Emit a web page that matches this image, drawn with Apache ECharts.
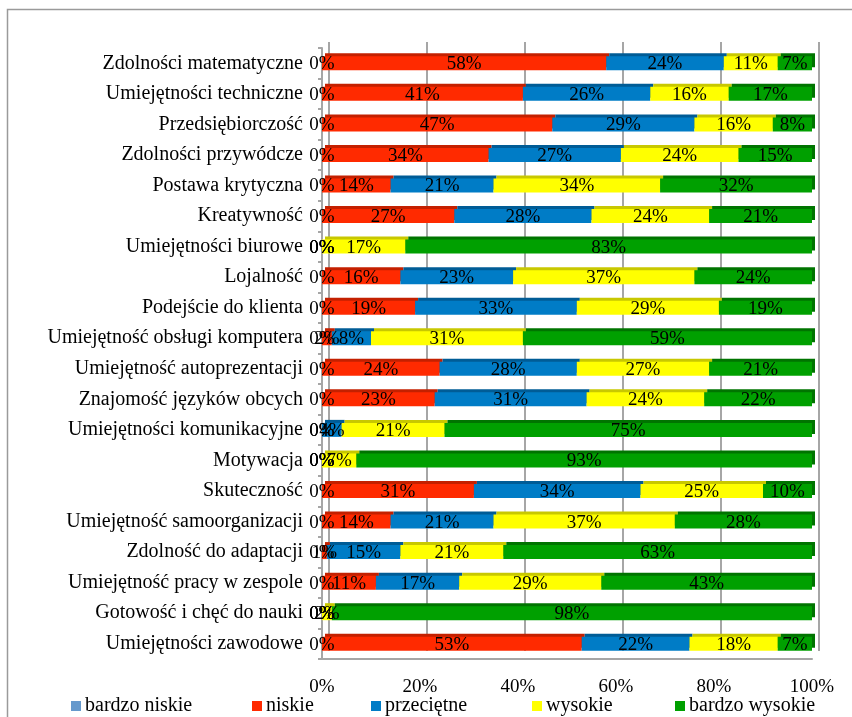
<!DOCTYPE html>
<html>
<head>
<meta charset="utf-8">
<script src="https://cdn.jsdelivr.net/npm/echarts@6/dist/echarts.min.js"></script>
<style>
  html, body { margin: 0; padding: 0; background: #fff; }
  #chart { width: 852px; height: 717px; }
</style>
</head>
<body>
<div id="chart"></div>
<script>
// kategorie (od góry do dołu)
const categories = [
  'Zdolności matematyczne',
  'Umiejętności techniczne',
  'Przedsiębiorczość',
  'Zdolności przywódcze',
  'Postawa krytyczna',
  'Kreatywność',
  'Umiejętności biurowe',
  'Lojalność',
  'Podejście do klienta',
  'Umiejętność obsługi komputera',
  'Umiejętność autoprezentacji',
  'Znajomość języków obcych',
  'Umiejętności komunikacyjne',
  'Motywacja',
  'Skuteczność',
  'Umiejętność samoorganizacji',
  'Zdolność do adaptacji',
  'Umiejętność pracy w zespole',
  'Gotowość i chęć do nauki',
  'Umiejętności zawodowe'
]

// wartości w %
const bardzoNiskie = [0, 0, 0, 0, 0, 0, 0, 0, 0, 0, 0, 0, 0, 0, 0, 0, 0, 0, 0, 0]
const niskie = [58, 41, 47, 34, 14, 27, 0, 16, 19, 2, 24, 23, 0, 0, 31, 14, 1, 11, 0, 53]
const przecietne = [24, 26, 29, 27, 21, 28, 0, 23, 33, 8, 28, 31, 4, 0, 34, 21, 15, 17, 0, 22]
const wysokie = [11, 16, 16, 24, 34, 24, 17, 37, 29, 31, 27, 24, 21, 7, 25, 37, 21, 29, 2, 18]
const bardzoWysokie = [7, 17, 8, 15, 32, 21, 83, 24, 19, 59, 21, 22, 75, 93, 10, 28, 63, 43, 98, 7]

const xTicks = [0, 20, 40, 60, 80, 100]

const serif = '"Times New Roman", "Liberation Serif", serif'
const gridGray = '#a6a6a6'

const seriesDefs = [
  { name: 'bardzo niskie', data: bardzoNiskie, color: '#6699cc', top: '#4d7aa8' },
  { name: 'niskie', data: niskie, color: '#ff2a00', top: '#c42000' },
  { name: 'przeciętne', data: przecietne, color: '#007cc6', top: '#005c96' },
  { name: 'wysokie', data: wysokie, color: '#ffff00', top: '#c8c800' },
  { name: 'bardzo wysokie', data: bardzoWysokie, color: '#00a000', top: '#007400' }
]

// pozycje legendy (lewa krawędź znacznika)
const legendLeft = [71, 252, 371, 532, 675]

const chart = echarts.init(document.getElementById('chart'))

const option = {
  animation: false,
  graphic: [
    {
      type: 'rect',
      silent: true,
      shape: { x: 7.5, y: 9.5, width: 900, height: 800 },
      style: { fill: 'none', stroke: '#9a9a9a', lineWidth: 1.5 }
    }
  ],
  legend: seriesDefs.map((s, i) => ({
    data: [s.name],
    left: legendLeft[i],
    top: 696,
    padding: 0,
    itemWidth: 10,
    itemHeight: 10,
    icon: 'rect',
    textStyle: { fontFamily: serif, fontSize: 20, color: '#000', padding: [2, 0, 0, -1] }
  })),
  grid: [
    // tylna ściana (linie siatki)
    { left: 329, right: 33, top: 42, bottom: 66 },
    // przód (słupki)
    { left: 322, right: 40, top: 48, bottom: 58 }
  ],
  xAxis: [
    {
      gridIndex: 0,
      type: 'value',
      min: 0,
      max: 100,
      interval: 20,
      axisLine: { show: false },
      axisTick: { show: false },
      axisLabel: { show: false },
      splitLine: { show: true, lineStyle: { color: gridGray, width: 2 } }
    },
    {
      gridIndex: 1,
      type: 'value',
      min: 0,
      max: 100,
      interval: 20,
      axisLine: { show: true, lineStyle: { color: gridGray, width: 2 } },
      axisTick: { show: false },
      splitLine: { show: false },
      axisLabel: {
        margin: 19,
        fontFamily: serif,
        fontSize: 19,
        color: '#000',
        formatter: v => xTicks.includes(v) ? v + '%' : ''
      }
    }
  ],
  yAxis: [
    {
      gridIndex: 0,
      type: 'category',
      data: categories,
      inverse: true,
      show: false
    },
    {
      gridIndex: 1,
      type: 'category',
      data: categories,
      inverse: true,
      offset: 5,
      axisLine: { show: true, lineStyle: { color: gridGray, width: 2 } },
      axisTick: { show: true, length: 4, inside: false, lineStyle: { color: gridGray, width: 2 } },
      splitLine: { show: false },
      axisLabel: { margin: 14, fontFamily: serif, fontSize: 20, color: '#000' }
    }
  ],
  series: seriesDefs.map(s => ({
    name: s.name,
    type: 'bar',
    xAxisIndex: 1,
    yAxisIndex: 1,
    stack: 'total',
    barWidth: 14,
    data: s.data,
    itemStyle: {
      color: s.color,
      shadowColor: s.top,
      shadowBlur: 0,
      shadowOffsetX: 3,
      shadowOffsetY: -3
    },
    label: {
      show: true,
      position: 'inside',
      formatter: '{c}%',
      fontFamily: serif,
      fontSize: 19,
      color: '#000',
      offset: [0, 1]
    }
  }))
}

chart.setOption(option)
</script>
</body>
</html>
